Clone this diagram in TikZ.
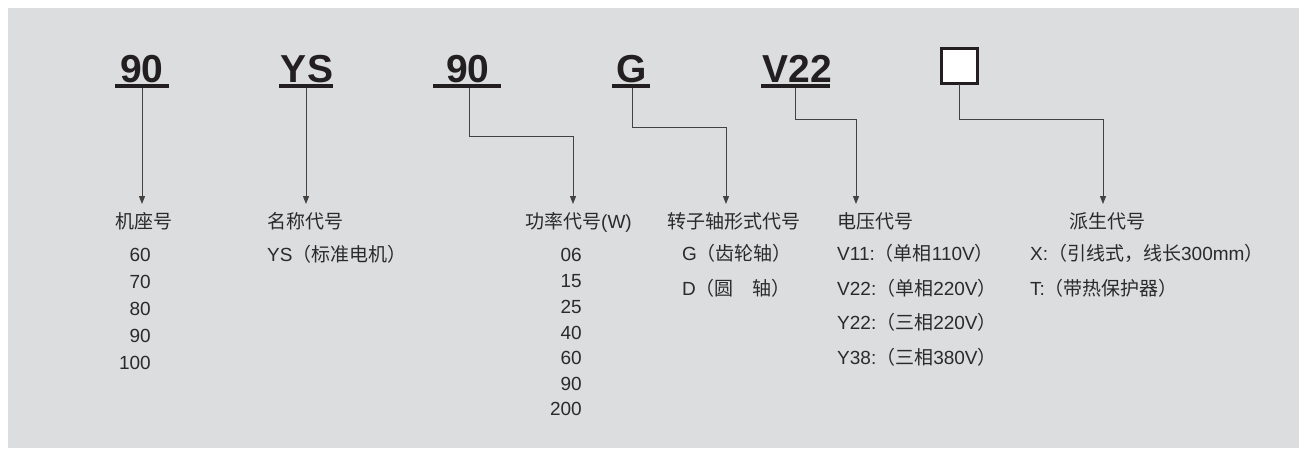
\documentclass[tikz,border=0pt]{standalone}
\usepackage{fontspec}
\setmainfont{Liberation Sans}
\newfontfamily\cjk{Noto Sans CJK SC}
\usetikzlibrary{arrows.meta}
\definecolor{bg}{HTML}{DCDDDF}
\definecolor{ink}{HTML}{231F20}
\definecolor{txt}{HTML}{2A2A2A}
\newcommand{\zh}[1]{{\cjk #1}}
\tikzset{
  code/.style={font=\fontsize{39}{39}\selectfont\bfseries, text=ink, inner sep=0pt, anchor=base},
  uline/.style={draw=ink, line width=3.3pt},
  lead/.style={draw=ink!85, line width=1pt, -{Triangle[width=6pt,length=8pt]}},
  lbl/.style={font=\fontsize{19}{19}\selectfont, text=txt, inner sep=0pt, anchor=base west},
  num/.style={font=\fontsize{19}{19}\selectfont, text=txt, inner sep=0pt, anchor=base east},
}
\begin{document}
\begin{tikzpicture}[x=1pt,y=-1pt]
\useasboundingbox (0,0) rectangle (1299,448);
\fill[white] (0,0) rectangle (1299,448);
\fill[bg] (8,8) rectangle (1299,448);

% codes
\node[code] (c1) at (142,82) {90};
\node[code] (c2) at (307,82) {YS};
\node[code] (c3) at (468,82) {90};
\node[code] (c4) at (632,82) {G};
\node[code] (c5) at (797,82) {V22};
\node[draw=ink, line width=3pt, fill=white, minimum width=36pt, minimum height=35pt, inner sep=0pt] (c6) at (959.5,65.5) {};

% underlines
\coordinate (u1a) at (115,86); \coordinate (u1b) at (169,86);
\coordinate (u2a) at (279,86); \coordinate (u2b) at (333,86);
\coordinate (u3a) at (433,86); \coordinate (u3b) at (501,86);
\coordinate (u4a) at (612,86); \coordinate (u4b) at (650,86);
\coordinate (u5a) at (761,86); \coordinate (u5b) at (830,86);
\draw[uline] (u1a) -- (u1b);
\draw[uline] (u2a) -- (u2b);
\draw[uline] (u3a) -- (u3b);
\draw[uline] (u4a) -- (u4b);
\draw[uline] (u5a) -- (u5b);

% connector start points
\coordinate (s1) at (142,88);
\coordinate (s2) at (306,88);
\coordinate (s3) at (469,88);
\coordinate (s4) at (632,88);
\coordinate (s5) at (795,88);
\coordinate (s6) at (959,84);
% connector ends (arrow tips)
\coordinate (e1) at (142,204);
\coordinate (e2) at (306,204);
\coordinate (e3) at (573,204);
\coordinate (e4) at (726,204);
\coordinate (e5) at (856,204);
\coordinate (e6) at (1103,204);

\draw[lead] (s1) -- (e1);
\draw[lead] (s2) -- (e2);
\draw[lead] (s3) |- (573,136) -- (e3);
\draw[lead] (s4) |- (726,127) -- (e4);
\draw[lead] (s5) |- (856,119) -- (e5);
\draw[lead] (s6) |- (1103,119) -- (e6);

% headings
\node[lbl] (h1) at (115,228) {\zh{机座号}};
\node[lbl] (h2) at (267,228) {\zh{名称代号}};
\node[lbl] (h3) at (525,228) {\zh{功率代号}(W)};
\node[lbl] (h4) at (667,228) {\zh{转子轴形式代号}};
\node[lbl] (h5) at (837,228) {\zh{电压代号}};
\node[lbl] (h6) at (1069,228) {\zh{派生代号}};

% column 1
\node[num] (a1) at (151,261) {60};
\node[num] (a2) at (151,288) {70};
\node[num] (a3) at (151,315) {80};
\node[num] (a4) at (151,342) {90};
\node[num] (a5) at (151,369) {100};

% column 2
\node[lbl] (b1) at (267,261) {YS\zh{（标准电机）}};

% column 3
\node[num] (p1) at (582,261) {06};
\node[num] (p2) at (582,287) {15};
\node[num] (p3) at (582,313) {25};
\node[num] (p4) at (582,339) {40};
\node[num] (p5) at (582,364) {60};
\node[num] (p6) at (582,390) {90};
\node[num] (p7) at (582,415) {200};

% column 4
\node[lbl] (g1) at (682,260) {G\zh{（齿轮轴）}};
\node[lbl] (g2) at (682,295) {D\zh{（圆　轴）}};

% column 5
\node[lbl] (v1) at (837,260) {V11:\zh{（单相}110V\zh{）}};
\node[lbl] (v2) at (837,295) {V22:\zh{（单相}220V\zh{）}};
\node[lbl] (v3) at (837,329) {Y22:\zh{（三相}220V\zh{）}};
\node[lbl] (v4) at (837,364) {Y38:\zh{（三相}380V\zh{）}};

% column 6
\node[lbl] (x1) at (1030,260) {X:\zh{（引线式，线长}300mm\zh{）}};
\node[lbl] (x2) at (1030,295) {T:\zh{（带热保护器）}};
\end{tikzpicture}
\end{document}
